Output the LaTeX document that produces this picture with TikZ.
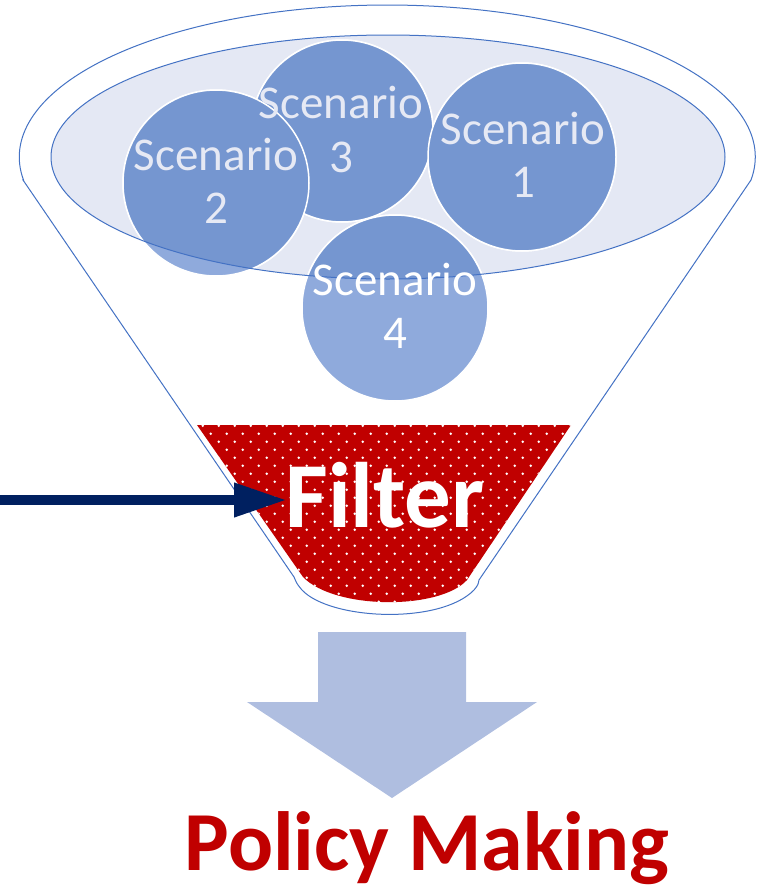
\documentclass[tikz,border=0pt]{standalone}
\usepackage{fontspec}
\setmainfont{Carlito}
\usetikzlibrary{arrows.meta}
\definecolor{funnelblue}{HTML}{4472C4}
\definecolor{ellfill}{HTML}{E4E8F4}
\definecolor{circdark}{HTML}{7596D0}
\definecolor{circlight}{HTML}{8FAADC}
\definecolor{filterred}{HTML}{C00000}
\definecolor{navyblue}{HTML}{002060}
\definecolor{downblue}{HTML}{AFBEE0}
\definecolor{scentext}{HTML}{E6E9F4}
\begin{document}
\begin{tikzpicture}[x=1pt,y=-1pt,
  scentxt/.style={font=\fontsize{47}{47}\selectfont, text=scentext, anchor=base, inner sep=0pt},
  circbase/.style={draw=white, line width=1.5pt},
  funnelline/.style={draw=funnelblue, line width=1pt}]
\useasboundingbox (0,0) rectangle (756,889);
% funnel outline
\path[funnelline, fill=white] (23,180) -- (294,577) .. controls (297,584) .. (302,590)
  .. controls (330,620) and (440,625) .. (474,590) .. controls (478,585) .. (479,580)
  -- (751,180) arc[start angle=8.7, end angle=-188.7, x radius=368, y radius=152] -- cycle;
% filter
\fill[filterred] (197,425) -- (571,425) -- (467,580) .. controls (440,610) and (335,610) .. (303,577) -- cycle;
\begin{scope}
  \clip (197,425) -- (571,425) -- (467,580) .. controls (440,610) and (335,610) .. (303,577) -- cycle;
  \foreach \k in {0,...,23} {
    \foreach \m in {-8,...,18} {
      \fill[white] ({306.7+16*\m+8*mod(\k+1,2)},{425.7+8*\k}) circle[radius=1.4];
    }
  }
\end{scope}
% inner ellipse fill
\fill[ellfill] (388,157) ellipse[x radius=337, y radius=122];
% circles (outside part light)
\path[circbase, fill=circlight] (342,131) circle[radius=91];
\path[circbase, fill=circlight] (216,183) circle[radius=93];
\path[circbase, fill=circlight] (522,157) circle[radius=94];
\path[circbase, fill=circlight] (395,308) circle[radius=93];
\begin{scope}
  \clip (388,157) ellipse[x radius=337, y radius=122];
  \path[circbase, fill=circdark] (342,131) circle[radius=91];
  \path[circbase, fill=circdark] (216,183) circle[radius=93];
  \path[circbase, fill=circdark] (522,157) circle[radius=94];
  \path[circbase, fill=circdark] (395,308) circle[radius=93];
\end{scope}
\draw[funnelline] (388,157) ellipse[x radius=337, y radius=122];
% scenario labels
\node[scentxt] (s3a) at (341,118) {Scenario};
\node[scentxt] (s3b) at (341,172) {3};
\node[scentxt] (s2a) at (216,170) {Scenario};
\node[scentxt] (s2b) at (216,223) {2};
\node[scentxt] (s1a) at (523,144) {Scenario};
\node[scentxt] (s1b) at (523,197) {1};
\node[scentxt, text=white] (s4a) at (395,295) {Scenario};
\node[scentxt, text=white] (s4b) at (395,348) {4};
% filter label
\node[font=\bfseries\fontsize{93}{93}\selectfont, text=white, anchor=base, inner sep=0pt] (filter) at (385,527) {Filter};
% input arrow
\coordinate (arrowstart) at (0,500);
\coordinate (arrowtip) at (287,500);
\draw[navyblue, line width=10pt, -{Triangle[length=53pt,width=32pt]}] (arrowstart) -- (arrowtip);
% down arrow
\fill[downblue] (318,632) -- (466,632) -- (466,702) -- (537,702) -- (392,798) -- (247,702) -- (318,702) -- cycle;
% policy making
\node[font=\bfseries\fontsize{84}{84}\selectfont, text=filterred, anchor=base, inner sep=0pt] (policy) at (427,870) {Policy Making};
\end{tikzpicture}
\end{document}
